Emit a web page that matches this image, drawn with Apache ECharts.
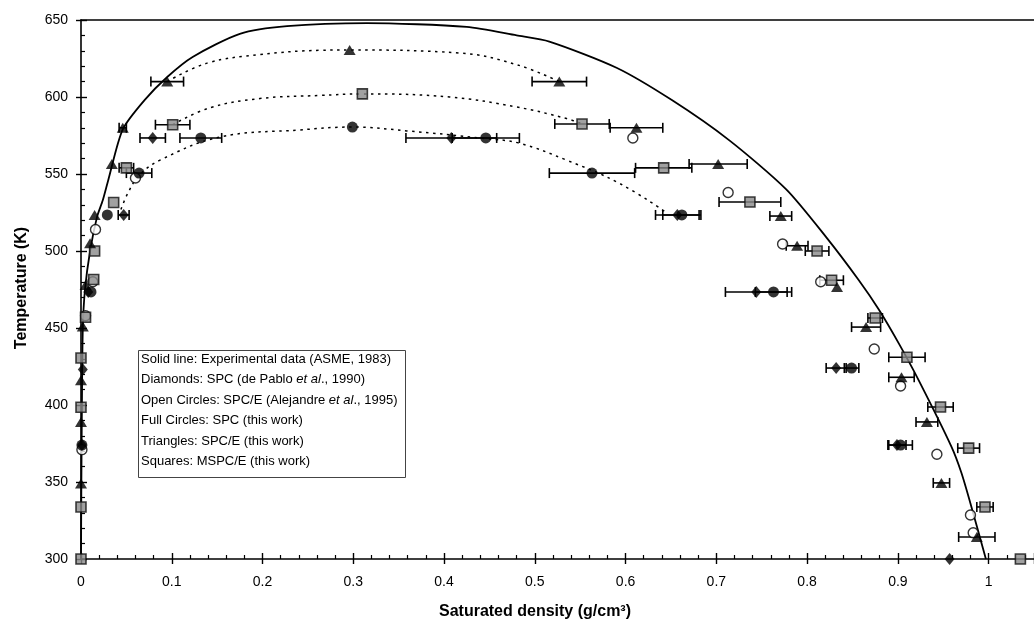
<!DOCTYPE html>
<html><head><meta charset="utf-8">
<script src="https://cdn.jsdelivr.net/npm/echarts@6/dist/echarts.min.js"></script>
<style>html,body{margin:0;padding:0;background:#fff}#c{width:1034px;height:628px}</style>
</head><body><div id="c"></div>
<script>
// Experimental coexistence curve (ASME, 1983): [density, T]
var asmeLine = [[0,300],[0.0004,350],[0.001,400],[0.002,450],[0.0044,475],[0.01,500],[0.0176,522],[0.024,533],[0.03,546],[0.046,579],[0.07,598],[0.095,613],[0.123,626],[0.175,641],[0.227,646],[0.315,648],[0.425,645.5],[0.48,640],[0.516,636],[0.59,619],[0.651,598],[0.714,572],[0.777,540],[0.821,509],[0.857,481],[0.879,462],[0.901,440],[0.923,416],[0.959,373],[0.970,356],[0.981,334],[0.997,300]];
// [density, T, half error bar]
var triangles = [[0.296,630.5,0],[0.095,610,0.018],[0.527,610,0.03],[0.046,580,0.004],[0.612,580,0.029],[0.034,556.5,0],[0.702,556.5,0.032],[0.015,523.4,0],[0.771,522.7,0.012],[0.010,505,0],[0.789,503.4,0.012],[0.005,478,0],[0.833,476.6,0],[0.002,451,0],[0.865,450.6,0.016],[0,416,0],[0.904,418,0.014],[0,389,0],[0.932,389,0.012],[0,349,0],[0.948,349.4,0.009],[0.987,314.3,0.02]];
var squares = [[0.310,602,0],[0.101,582,0.019],[0.552,582.5,0.03],[0.050,554,0.008],[0.642,554,0.031],[0.036,531.5,0],[0.737,531.8,0.034],[0.015,500,0],[0.811,500,0.013],[0.014,481.5,0],[0.827,481,0.013],[0.005,457,0],[0.875,456.5,0.008],[0,430.5,0],[0.910,431,0.02],[0,398.5,0],[0.947,398.7,0.014],[0.978,372,0.012],[0,333.8,0],[0.996,333.8,0.009],[0,300,0],[1.035,300,0]];
var diamonds = [[0.079,573.4,0.014],[0.408,573.4,0.05],[0.047,523.4,0.006],[0.657,523.4,0.024],[0.008,473.4,0],[0.744,473.4,0.034],[0.002,423,0],[0.832,424,0.011],[0.001,374,0],[0.899,374,0.01],[0.957,300,0]];
var fullCircles = [[0.299,580.5,0],[0.132,573.4,0.023],[0.446,573.4,0.037],[0.064,550.6,0.014],[0.563,550.6,0.047],[0.029,523.4,0],[0.662,523.4,0.021],[0.011,473.4,0],[0.763,473.4,0.02],[0.849,424,0.008],[0.001,374,0],[0.903,374,0.013]];
var openCircles = [[0.608,573.4],[0.060,547.4],[0.713,538],[0.016,514],[0.773,504.5],[0.013,480],[0.815,480],[0.005,458],[0.874,436.4],[0.903,412.3],[0.001,371],[0.943,368],[0.980,328.6],[0.983,317]];
// dotted guide curves
var triDotted = [[0.095,610],[0.139,622],[0.197,627.5],[0.263,630.3],[0.296,630.5],[0.417,628.6],[0.48,621],[0.527,610]];
var sqDotted = [[0.101,582],[0.142,593],[0.197,599],[0.263,601],[0.31,602],[0.406,600],[0.48,593.5],[0.535,586],[0.552,582.5]];
var circDotted = [[0.044,527],[0.052,538],[0.064,549],[0.087,559],[0.153,574],[0.241,578.6],[0.299,580.5],[0.359,578],[0.446,573],[0.483,570],[0.535,559],[0.593,544],[0.645,525]];
var xTicks = {min:0, max:1.05, interval:0.1};
var yTicks = {min:300, max:650, interval:50};
var legendLines = [
  'Solid line: Experimental data (ASME, 1983)',
  'Diamonds: SPC (de Pablo {i|et al}., 1990)',
  'Open Circles: SPC/E (Alejandre {i|et al}., 1995)',
  'Full Circles: SPC (this work)',
  'Triangles: SPC/E (this work)',
  'Squares: MSPC/E (this work)'
];

var FONT = 'Liberation Sans, Arial, sans-serif';
var chart = echarts.init(document.getElementById('c'));

var errData = [].concat(triangles, squares, diamonds, fullCircles).filter(function(d){return d[2] > 0;});
function xy(arr){return arr.map(function(d){return [d[0], d[1]];});}

function errRender(params, api){
  var x = api.value(0), y = api.value(1), e = api.value(2);
  var a = api.coord([x - e, y]), b = api.coord([x + e, y]);
  var st = {stroke:'#000', lineWidth:1.6};
  var h = 5;
  return {type:'group', children:[
    {type:'line', shape:{x1:a[0], y1:a[1], x2:b[0], y2:b[1]}, style:st},
    {type:'line', shape:{x1:a[0], y1:a[1]-h, x2:a[0], y2:a[1]+h}, style:st},
    {type:'line', shape:{x1:b[0], y1:b[1]-h, x2:b[0], y2:b[1]+h}, style:st}
  ]};
}

var dotStyle = {color:'#000', width:1.5, type:[2.5,4.5]};
var option = {
  animation:false,
  grid:{left:81, right:0, top:20, bottom:69, containLabel:false},
  xAxis:[{
    type:'value', min:xTicks.min, max:xTicks.max, interval:xTicks.interval, position:'bottom',
    axisLine:{show:true, onZero:false, lineStyle:{color:'#000', width:1.6}},
    axisTick:{show:true, inside:true, length:6, lineStyle:{color:'#000', width:1.4}},
    minorTick:{show:true, splitNumber:5, length:4, lineStyle:{color:'#000', width:1.2}},
    axisLabel:{show:true, color:'#000', fontSize:14, fontFamily:FONT, margin:16, showMaxLabel:false},
    splitLine:{show:false}
  },{
    type:'value', min:xTicks.min, max:xTicks.max, interval:xTicks.interval, position:'bottom',
    axisLine:{show:false}, axisTick:{show:true, inside:false, length:5, lineStyle:{color:'#000', width:1.4}},
    axisLabel:{show:false}, splitLine:{show:false}
  },{
    type:'value', min:xTicks.min, max:xTicks.max, position:'top',
    axisLine:{show:true, onZero:false, lineStyle:{color:'#000', width:1.6}},
    axisTick:{show:false}, axisLabel:{show:false}, splitLine:{show:false}
  }],
  yAxis:[{
    type:'value', min:yTicks.min, max:yTicks.max, interval:yTicks.interval, position:'left',
    axisLine:{show:true, onZero:false, lineStyle:{color:'#000', width:1.6}},
    axisTick:{show:true, inside:true, length:6, lineStyle:{color:'#000', width:1.4}},
    minorTick:{show:true, splitNumber:5, length:4, lineStyle:{color:'#000', width:1.2}},
    axisLabel:{show:true, color:'#000', fontSize:14, fontFamily:FONT, margin:13},
    splitLine:{show:false}
  },{
    type:'value', min:yTicks.min, max:yTicks.max, interval:yTicks.interval, position:'left',
    axisLine:{show:false}, axisTick:{show:true, inside:false, length:5, lineStyle:{color:'#000', width:1.4}},
    axisLabel:{show:false}, splitLine:{show:false}
  }],
  graphic:[
    {type:'text', x:535, y:612, style:{text:'Saturated density (g/cm³)', font:'bold 16px ' + FONT, fill:'#000', textAlign:'center', textVerticalAlign:'middle'}},
    {type:'text', x:22, y:288, rotation:Math.PI/2, style:{text:'Temperature (K)', font:'bold 16px ' + FONT, fill:'#000', textAlign:'center', textVerticalAlign:'middle'}},
    {type:'rect', shape:{x:138.5, y:350.5, width:267, height:127}, style:{fill:'#fff', stroke:'#444', lineWidth:1}, z:50},
    {type:'text', x:141, y:349, z:51, style:{text:legendLines.join('\n'), font:'13px ' + FONT, fill:'#000', lineHeight:20.5,
      rich:{i:{fontStyle:'italic', fontSize:13, fontFamily:FONT, lineHeight:20.5}}}}
  ],
  series:[
    {type:'line', data:asmeLine, smooth:0.25, showSymbol:false, symbol:'none', lineStyle:{color:'#000', width:1.8}, z:2},
    {type:'line', data:triDotted, smooth:0.4, symbol:'none', lineStyle:dotStyle, z:2},
    {type:'line', data:sqDotted, smooth:0.4, symbol:'none', lineStyle:dotStyle, z:2},
    {type:'line', data:circDotted, smooth:0.4, symbol:'none', lineStyle:dotStyle, z:2},
    {type:'custom', data:errData, renderItem:errRender, encode:{x:0, y:1}, z:3},
    {type:'scatter', data:xy(openCircles), symbol:'circle', symbolSize:10, itemStyle:{color:'#fff', borderColor:'#000', borderWidth:1.4}, z:4},
    {type:'scatter', data:xy(squares), symbol:'rect', symbolSize:10, itemStyle:{color:'#8a8a8a', borderColor:'#111', borderWidth:1.6}, z:5},
    {type:'scatter', data:xy(diamonds), symbol:'diamond', symbolSize:[10,12], itemStyle:{color:'#000'}, z:5},
    {type:'scatter', data:xy(fullCircles), symbol:'circle', symbolSize:11, itemStyle:{color:'#000'}, z:5},
    {type:'scatter', data:xy(triangles), symbol:'triangle', symbolSize:[12,10], itemStyle:{color:'#000'}, z:6}
  ]
};
chart.setOption(option);
</script></body></html>
